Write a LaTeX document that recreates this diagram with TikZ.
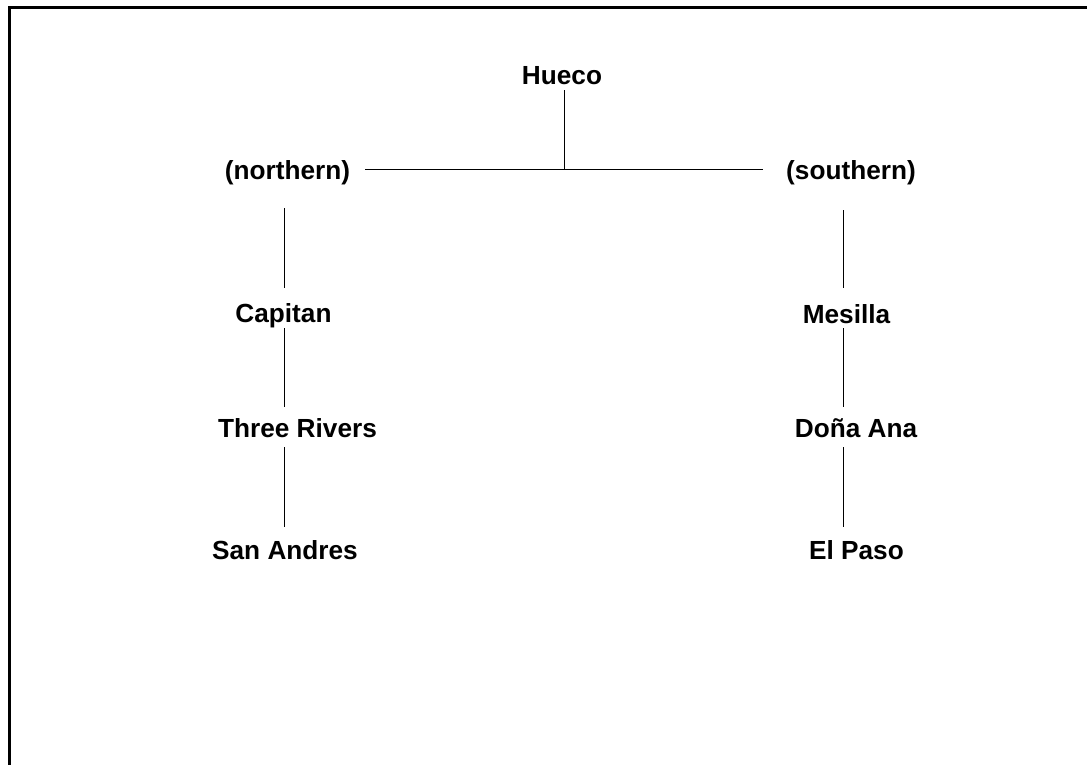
\documentclass[tikz,border=0pt]{standalone}
\usepackage{fontspec}
\setmainfont{Liberation Sans}
\begin{document}
\begin{tikzpicture}[x=1pt,y=-1pt,
  lbl/.style={anchor=base,inner sep=0pt,font=\fontsize{26.2}{30}\selectfont\bfseries},
  link/.style={line width=0.8pt},
  frame/.style={line width=3.2pt}]
\useasboundingbox (0,0) rectangle (1087,765);
% open frame: top and left edges only
\draw[frame] (9.7,765) |- (1087,7.3);

% place names
\node[lbl] (hueco)    at (562,85)    {Hueco};
\node[lbl] (northern) at (287.5,179) {(northern)};
\node[lbl] (southern) at (851,179)   {(southern)};
\node[lbl] (capitan)  at (283.5,322) {Capitan};
\node[lbl] (three)    at (297.5,437) {Three Rivers};
\node[lbl] (sanandres) at (285,559)  {San Andres};
\node[lbl] (mesilla)  at (846.5,323) {Mesilla};
\node[lbl] (donaana)  at (856,437)   {Doña Ana};
\node[lbl] (elpaso)   at (856.5,559) {El Paso};

% column axes and the branching point
\coordinate (fork) at (564,169);
\coordinate (ncol) at (284,0);
\coordinate (scol) at (843.5,0);

% split into the two branches
\draw[link] (fork) -- ([yshift=-5pt]fork |- hueco.base);
\draw[link] ([shift={(15,-10)}]northern.base east) -- ([shift={(-23,-10)}]southern.base west);

% northern chain
\draw[link] ([yshift=-29pt]ncol |- northern.base) -- ([yshift=34pt]ncol |- capitan.base);
\draw[link] ([yshift=-6pt]ncol |- capitan.base) -- ([yshift=30pt]ncol |- three.base);
\draw[link] ([yshift=-10pt]ncol |- three.base) -- ([yshift=32pt]ncol |- sanandres.base);

% southern chain
\draw[link] ([yshift=-31pt]scol |- southern.base) -- ([yshift=35pt]scol |- mesilla.base);
\draw[link] ([yshift=-5pt]scol |- mesilla.base) -- ([yshift=30pt]scol |- donaana.base);
\draw[link] ([yshift=-10pt]scol |- donaana.base) -- ([yshift=32pt]scol |- elpaso.base);
\end{tikzpicture}
\end{document}
